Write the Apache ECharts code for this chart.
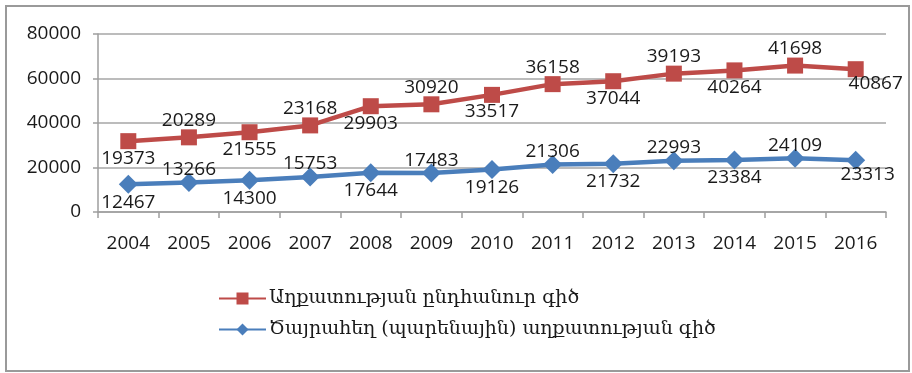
<!DOCTYPE html>
<html>
<head>
<meta charset="utf-8">
<script src="https://cdn.jsdelivr.net/npm/echarts@6/dist/echarts.min.js"></script>
<style>
  html, body { margin: 0; padding: 0; background: #fff; }
  #chart { width: 912px; height: 373px; }
</style>
</head>
<body>
<div id="chart"></div>
<script>
// Poverty lines by year (AMD per adult equivalent per month)
const years = ['2004', '2005', '2006', '2007', '2008', '2009', '2010', '2011', '2012', '2013', '2014', '2015', '2016'];
const generalLine = [19373, 20289, 21555, 23168, 29903, 30920, 33517, 36158, 37044, 39193, 40264, 41698, 40867];
const foodLine = [12467, 13266, 14300, 15753, 17644, 17483, 19126, 21306, 21732, 22993, 23384, 24109, 23313];
const generalName = 'Աղքատության ընդհանուր գիծ';
const foodName = 'Ծայրահեղ (պարենային) աղքատության գիծ';
const yTicks = { min: 0, max: 80000, step: 20000 };

const NUM_FONT = "'Open Sans', 'Liberation Sans', sans-serif";
const ARM_FONT = "'DejaVu Serif', 'DejaVu Sans', serif";

// Labels alternate below / above the point; the last one sits down-right.
function withLabels(values, upDy, downDy, lastOffset) {
  const last = values.length - 1;
  return values.map((v, i) => {
    let offset;
    if (i === last) offset = lastOffset;
    else if (i % 2 === 0) offset = [0, downDy];
    else offset = [0, upDy];
    return { value: v, label: { offset: offset } };
  });
}

const chart = echarts.init(document.getElementById('chart'), null, { renderer: 'canvas' });

const labelBase = {
  show: true,
  position: 'inside',
  color: '#1a1a1a',
  fontFamily: NUM_FONT,
  fontSize: 19
};

chart.setOption({
  animation: false,
  backgroundColor: '#fff',
  graphic: [{
    type: 'rect',
    shape: { x: 6, y: 6, width: 903, height: 365 },
    style: { fill: 'none', stroke: '#9a9a9a', lineWidth: 2 },
    silent: true,
    z: -1
  }],
  grid: { left: 98, right: 26, top: 34, bottom: 161, containLabel: false },
  legend: {
    orient: 'vertical',
    left: 213,
    top: 284,
    itemWidth: 47,
    itemHeight: 15,
    itemGap: 12,
    data: [generalName, foodName],
    textStyle: { fontFamily: ARM_FONT, fontSize: 19, color: '#1a1a1a', padding: [0, 0, 0, -2] }
  },
  xAxis: {
    type: 'category',
    data: years,
    boundaryGap: true,
    axisLine: { lineStyle: { color: '#9e9e9e', width: 1.5 } },
    axisTick: { show: true, length: 6, alignWithLabel: false, lineStyle: { color: '#9e9e9e', width: 1.5 } },
    axisLabel: { color: '#1a1a1a', fontFamily: NUM_FONT, fontSize: 19, margin: 22 },
    splitLine: { show: false }
  },
  yAxis: {
    type: 'value',
    min: yTicks.min,
    max: yTicks.max,
    interval: yTicks.step,
    axisLine: { show: true, lineStyle: { color: '#9e9e9e', width: 1.5 } },
    axisTick: { show: true, length: 5, lineStyle: { color: '#9e9e9e', width: 1.5 } },
    axisLabel: {
      color: '#1a1a1a', fontFamily: NUM_FONT, fontSize: 19, margin: 17,
      formatter: (v) => String(v)
    },
    splitLine: { show: true, lineStyle: { color: '#a6a6a6', width: 1.5 } }
  },
  series: [
    {
      name: foodName,
      type: 'line',
      stack: 'poverty',
      data: withLabels(foodLine, -13, 18, [12, 14]),
      symbol: 'diamond',
      symbolSize: 19,
      lineStyle: { color: '#4a7ebb', width: 4.5 },
      itemStyle: { color: '#4a7ebb' },
      label: labelBase,
      z: 2
    },
    {
      name: generalName,
      type: 'line',
      stack: 'poverty',
      data: withLabels(generalLine, -17, 17, [20, 14]),
      symbol: 'rect',
      symbolSize: 16,
      lineStyle: { color: '#be4b48', width: 4.5 },
      itemStyle: { color: '#be4b48' },
      label: labelBase,
      z: 3
    }
  ]
});
</script>
</body>
</html>
